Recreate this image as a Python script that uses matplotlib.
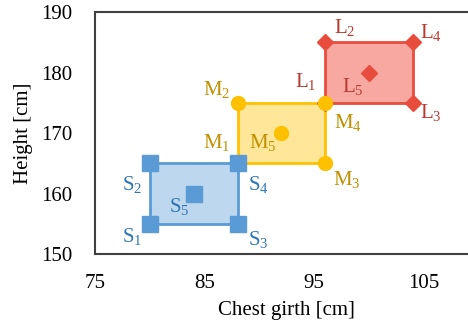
import matplotlib.pyplot as plt
from matplotlib.patches import Polygon

plt.rcParams['font.family'] = 'Liberation Serif'
plt.rcParams['mathtext.fontset'] = 'custom'
plt.rcParams['mathtext.rm'] = 'Liberation Serif'

# corner points 1..5 for each size group: (chest girth, height)
s_x = [80, 80, 88, 88, 84]
s_y = [155, 165, 155, 165, 160]
m_x = [88, 88, 96, 96, 92]
m_y = [165, 175, 165, 175, 170]
l_x = [96, 96, 104, 104, 100]
l_y = [175, 185, 175, 185, 180]

# drawn L first so that M and S markers sit on top at the shared corners
groups = [
    ("L", l_x, l_y, "D", 8.5, "#E84C3D", "#F6A8A1", "#B83A2E",
     [(-1.8, 3.4), (1.8, 2.3), (1.6, -1.7), (1.6, 1.5), (-1.5, -2.4)]),
    ("M", m_x, m_y, "o", 10, "#FFC000", "#FFE699", "#BF9000",
     [(-1.9, 3.3), (-1.9, 2.1), (2.0, -2.8), (2.1, -3.4), (-1.7, -1.7)]),
    ("S", s_x, s_y, "s", 11, "#5B9BD5", "#BDD7EE", "#2E75B6",
     [(-1.6, -2.2), (-1.6, -3.6), (1.9, -2.7), (1.9, -3.6), (-1.3, -2.2)]),
]

fig = plt.figure(figsize=(4.68, 3.33), dpi=100)
ax = fig.add_axes([0.203, 0.237, 0.82, 0.727])

for k, (name, xs, ys, mk, ms, col, fill, tcol, offs) in enumerate(groups):
    order = [0, 1, 3, 2]
    corners = [(xs[i], ys[i]) for i in order]
    ax.add_patch(Polygon(corners, closed=True, facecolor=fill, edgecolor=col,
                         linewidth=2, zorder=2 + k))
    ax.plot(xs, ys, linestyle="none", marker=mk, color=col, markersize=ms,
            zorder=5 + k)
    for i in range(5):
        dx, dy = offs[i]
        ax.text(xs[i] + dx, ys[i] + dy, name + "$_{\\mathregular{%d}}$" % (i + 1),
                color=tcol, fontsize=15, ha="center", va="center", zorder=10)

ax.set_xlim(75, 110)
ax.set_ylim(150, 190)
ax.set_xticks([75, 85, 95, 105])
ax.set_yticks([150, 160, 170, 180, 190])
ax.tick_params(length=0, labelsize=15)
ax.tick_params(axis="y", pad=16)
ax.tick_params(axis="x", pad=14)
for sp in ax.spines.values():
    sp.set_color("#404040")
    sp.set_linewidth(1.5)
ax.spines["right"].set_visible(False)
ax.set_xlabel("Chest girth [cm]", fontsize=15, labelpad=6)
ax.set_ylabel("Height [cm]", fontsize=15, labelpad=6)

fig.savefig("out.png", dpi=100)
